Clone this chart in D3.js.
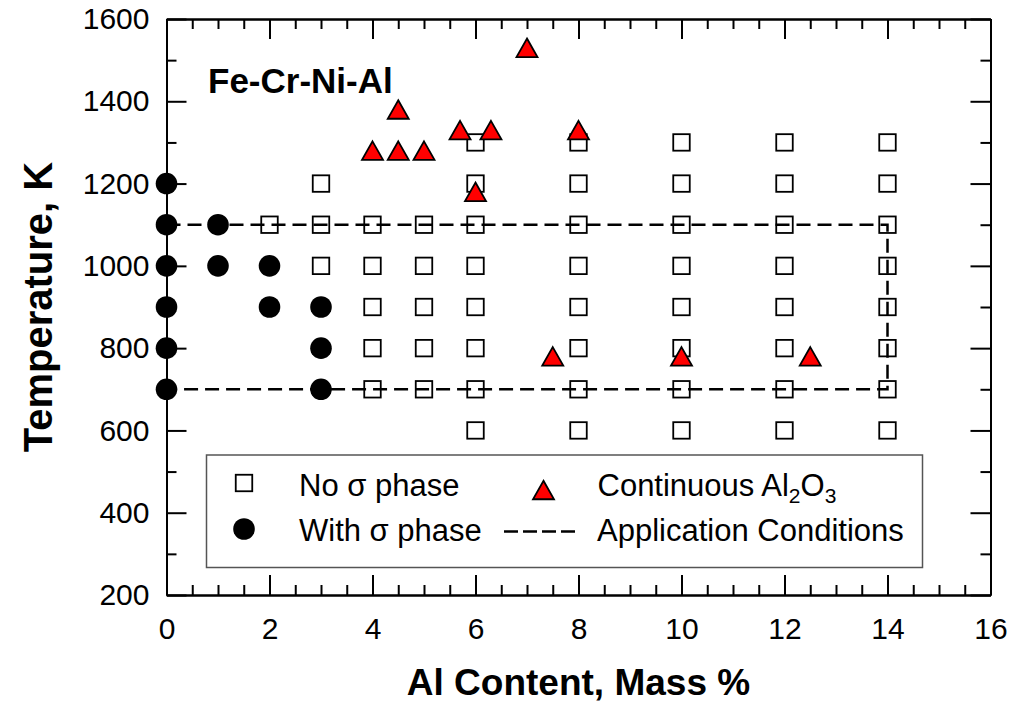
<!DOCTYPE html>
<html>
<head>
<meta charset="utf-8">
<script src="https://cdn.jsdelivr.net/npm/d3@7"></script>
<style>
  body { margin: 0; background: #fff; }
  svg text { font-family: "Liberation Sans", Arial, sans-serif; fill: #000; }
</style>
</head>
<body>
<svg id="chart" width="1021" height="706"></svg>
<script>
// no sigma phase (open squares): [Al mass %, T K]
var noSigma = [
  [2, 1100],
  [3, 1200], [3, 1100], [3, 1000],
  [4, 1100], [4, 1000], [4, 900], [4, 800], [4, 700],
  [5, 1100], [5, 1000], [5, 900], [5, 800], [5, 700],
  [6, 1300], [6, 1200], [6, 1100], [6, 1000], [6, 900], [6, 800], [6, 700], [6, 600],
  [8, 1300], [8, 1200], [8, 1100], [8, 1000], [8, 900], [8, 800], [8, 700], [8, 600],
  [10, 1300], [10, 1200], [10, 1100], [10, 1000], [10, 900], [10, 800], [10, 700], [10, 600],
  [12, 1300], [12, 1200], [12, 1100], [12, 1000], [12, 900], [12, 800], [12, 700], [12, 600],
  [14, 1300], [14, 1200], [14, 1100], [14, 1000], [14, 900], [14, 800], [14, 700], [14, 600]
];
// with sigma phase (filled circles)
var withSigma = [
  [0, 1200], [0, 1100], [0, 1000], [0, 900], [0, 800], [0, 700],
  [1, 1100], [1, 1000],
  [2, 1000], [2, 900],
  [3, 900], [3, 800], [3, 700]
];
// continuous Al2O3 (red triangles)
var al2o3 = [
  [4, 1280], [4.5, 1280], [5, 1280], [4.5, 1380],
  [5.7, 1330], [6.3, 1330], [6, 1180], [7, 1530], [8, 1330],
  [7.5, 780], [10, 780], [12.5, 780]
];
// application conditions window (dashed)
var appCond = [[0, 1100], [14, 1100], [14, 700], [0, 700]];

var xTicks = [0, 2, 4, 6, 8, 10, 12, 14, 16];
var yTicks = [200, 400, 600, 800, 1000, 1200, 1400, 1600];

var svg = d3.select("#chart");
var x = d3.scaleLinear().domain([0, 16]).range([166.5, 990.5]);
var y = d3.scaleLinear().domain([200, 1600]).range([595, 19]);

var minorX = d3.range(0, 16.01, 0.5).filter(function(v){ return v % 2 !== 0; });
var minorY = d3.range(200, 1601, 100).filter(function(v){ return v % 200 !== 0; });

function styleAxis(g){
  g.selectAll("path").attr("stroke", "#000").attr("stroke-width", 2);
  g.selectAll("line").attr("stroke", "#000").attr("stroke-width", 2);
  g.selectAll("text").attr("font-size", 30).attr("font-family", "Liberation Sans, Arial, sans-serif");
}

// bottom
svg.append("g").attr("transform", "translate(0,595)")
  .call(d3.axisBottom(x).tickValues(xTicks).tickSizeInner(-20).tickSizeOuter(0).tickPadding(23).tickFormat(d3.format("d")))
  .call(styleAxis);
svg.append("g").attr("transform", "translate(0,595)")
  .call(d3.axisBottom(x).tickValues(minorX).tickSizeInner(-10).tickSizeOuter(0).tickFormat(""))
  .call(styleAxis);
// top
svg.append("g").attr("transform", "translate(0,19)")
  .call(d3.axisTop(x).tickValues(xTicks).tickSizeInner(-20).tickSizeOuter(0).tickFormat(""))
  .call(styleAxis);
svg.append("g").attr("transform", "translate(0,19)")
  .call(d3.axisTop(x).tickValues(minorX).tickSizeInner(-10).tickSizeOuter(0).tickFormat(""))
  .call(styleAxis);
// left
svg.append("g").attr("transform", "translate(166.5,0)")
  .call(d3.axisLeft(y).tickValues(yTicks).tickSizeInner(-20).tickSizeOuter(0).tickPadding(17).tickFormat(d3.format("d")))
  .call(styleAxis);
svg.append("g").attr("transform", "translate(166.5,0)")
  .call(d3.axisLeft(y).tickValues(minorY).tickSizeInner(-10).tickSizeOuter(0).tickFormat(""))
  .call(styleAxis);
// right
svg.append("g").attr("transform", "translate(990.5,0)")
  .call(d3.axisRight(y).tickValues(yTicks).tickSizeInner(-20).tickSizeOuter(0).tickFormat(""))
  .call(styleAxis);
svg.append("g").attr("transform", "translate(990.5,0)")
  .call(d3.axisRight(y).tickValues(minorY).tickSizeInner(-10).tickSizeOuter(0).tickFormat(""))
  .call(styleAxis);

// squares
var sq = 16.5;
svg.append("g").selectAll("rect").data(noSigma).enter().append("rect")
  .attr("x", function(d){ return x(d[0]) - sq / 2; })
  .attr("y", function(d){ return y(d[1]) - sq / 2; })
  .attr("width", sq).attr("height", sq)
  .attr("fill", "#fff").attr("stroke", "#000").attr("stroke-width", 1.8);

// dashed application window
svg.append("path")
  .attr("d", d3.line().x(function(d){ return x(d[0]); }).y(function(d){ return y(d[1]); })(appCond))
  .attr("fill", "none").attr("stroke", "#000").attr("stroke-width", 2.5)
  .attr("stroke-dasharray", "14,7");

// circles
svg.append("g").selectAll("circle").data(withSigma).enter().append("circle")
  .attr("cx", function(d){ return x(d[0]); })
  .attr("cy", function(d){ return y(d[1]); })
  .attr("r", 10.8).attr("fill", "#000");

// triangles
var tw = 21, th = 18.5;
function tri(cx, cy){
  return "M" + cx + "," + (cy - th / 2) + "L" + (cx + tw / 2) + "," + (cy + th / 2) +
         "L" + (cx - tw / 2) + "," + (cy + th / 2) + "Z";
}
svg.append("g").selectAll("path").data(al2o3).enter().append("path")
  .attr("d", function(d){ return tri(x(d[0]), y(d[1])); })
  .attr("fill", "#f00").attr("stroke", "#000").attr("stroke-width", 1.8)
  .attr("stroke-linejoin", "miter");

// annotation
svg.append("text").attr("x", 208).attr("y", 93)
  .attr("font-size", 35).attr("font-weight", "bold").text("Fe-Cr-Ni-Al");

// axis titles
svg.append("text").attr("x", 578.5).attr("y", 695).attr("text-anchor", "middle")
  .attr("font-size", 37).attr("font-weight", "bold").text("Al Content, Mass %");
svg.append("text").attr("transform", "translate(52,307) rotate(-90)").attr("text-anchor", "middle")
  .attr("font-size", 40).attr("font-weight", "bold").text("Temperature, K");

// legend
var lg = svg.append("g");
lg.append("rect").attr("x", 206.5).attr("y", 455).attr("width", 716).attr("height", 112.5)
  .attr("fill", "#fff").attr("stroke", "#555").attr("stroke-width", 1.5);
lg.append("rect").attr("x", 244 - sq / 2).attr("y", 483 - sq / 2).attr("width", sq).attr("height", sq)
  .attr("fill", "#fff").attr("stroke", "#000").attr("stroke-width", 1.8);
lg.append("circle").attr("cx", 244).attr("cy", 529).attr("r", 10.8).attr("fill", "#000");
lg.append("path").attr("d", tri(543.5, 490)).attr("fill", "#f00").attr("stroke", "#000").attr("stroke-width", 1.8);
lg.append("line").attr("x1", 504).attr("x2", 578).attr("y1", 531.5).attr("y2", 531.5)
  .attr("stroke", "#000").attr("stroke-width", 2.5).attr("stroke-dasharray", "14,5");
lg.append("text").attr("x", 299).attr("y", 495.5).attr("font-size", 31).text("No \u03c3 phase");
lg.append("text").attr("x", 299).attr("y", 540.5).attr("font-size", 31).text("With \u03c3 phase");
var t1 = lg.append("text").attr("x", 597.5).attr("y", 495.5).attr("font-size", 31);
t1.append("tspan").text("Continuous Al");
t1.append("tspan").attr("font-size", 21).attr("dy", 7).text("2");
t1.append("tspan").attr("dy", -7).text("O");
t1.append("tspan").attr("font-size", 21).attr("dy", 7).text("3");
lg.append("text").attr("x", 597).attr("y", 540.5).attr("font-size", 31).text("Application Conditions");
</script>
</body>
</html>
